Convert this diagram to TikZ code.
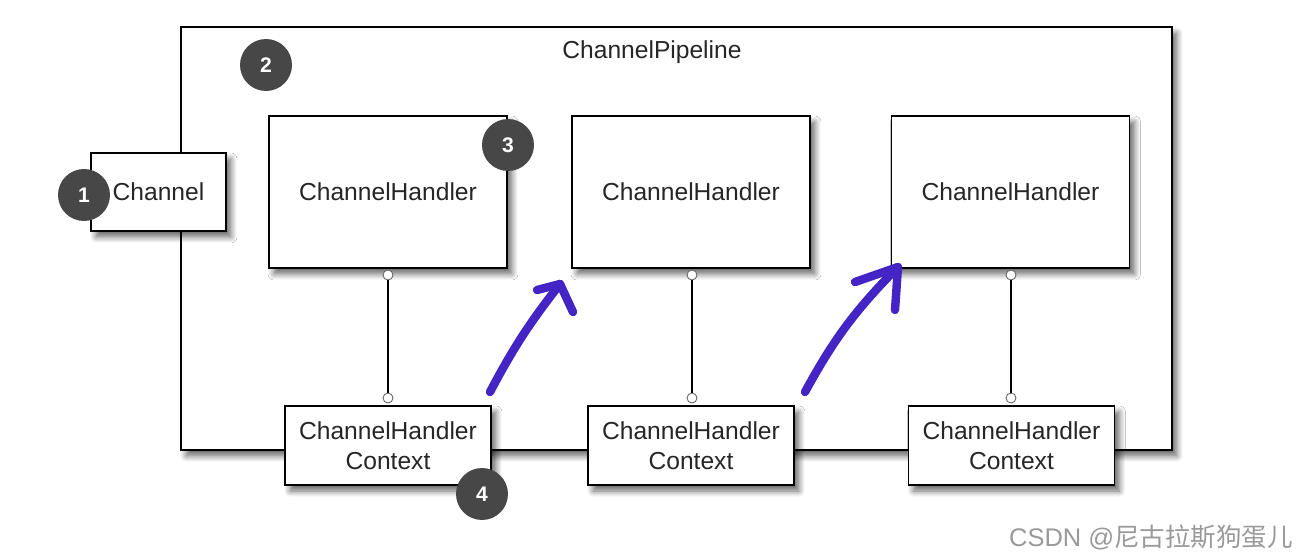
\documentclass[tikz,border=0pt]{standalone}
\usepackage{fontspec}
\setmainfont{Liberation Sans}
\newfontfamily\cjk{Noto Sans CJK SC}
\usetikzlibrary{shadows.blur}
\definecolor{pen}{RGB}{68,36,196}

\begin{document}
\begin{tikzpicture}[x=0.02cm,y=-0.02cm]
\tikzstyle{box}=[
  draw, line width=0.8pt, fill=white, text=black!85,
  font=\fontsize{14}{17}\selectfont, align=center, inner sep=0pt,
  blur shadow={shadow xshift=0.1cm, shadow yshift=-0.12cm,
    shadow blur steps=8, shadow blur radius=0.12cm, shadow opacity=60} ]
\tikzstyle{handler}=[box, minimum width=4.76cm, minimum height=3.04cm]
\tikzstyle{context}=[box, minimum width=4.12cm, minimum height=1.58cm]
\tikzstyle{badge}=[circle, fill=black!72, text=white, minimum size=1.04cm,
  inner sep=0pt, font=\bfseries\fontsize{12}{12}\selectfont]
\tikzstyle{port}=[circle, draw=black!60, fill=white, minimum size=0.2cm,
  inner sep=0pt, line width=0.5pt]
\tikzstyle{hand}=[draw=pen, line width=4.8pt, line cap=round, line join=round]

\useasboundingbox (0,0) rectangle (1306,558);

\node[box, minimum width=19.82cm, minimum height=8.46cm] (pipeline) at (676.5,238.5) {};
\node[text=black!85, font=\fontsize{14}{17}\selectfont] (title) at (652,52) {ChannelPipeline};
\node[box, minimum width=2.7cm, minimum height=1.56cm] (channel) at (158.5,192) {Channel};

\node[handler] (h1) at (388,192) {ChannelHandler};
\node[handler] (h2) at (691,192) {ChannelHandler};
\node[handler] (h3) at (1010.5,192) {ChannelHandler};

\node[port] (p1a) at (388,275) {};
\node[port] (p1b) at (388,398) {};
\node[port] (p2a) at (692,275) {};
\node[port] (p2b) at (692,398) {};
\node[port] (p3a) at (1011,275) {};
\node[port] (p3b) at (1011,398) {};
\draw[line width=0.6pt] (p1a) -- (p1b);
\draw[line width=0.6pt] (p2a) -- (p2b);
\draw[line width=0.6pt] (p3a) -- (p3b);

\node[context] (c1) at (388,445.5) {ChannelHandler\\Context};
\node[context] (c2) at (691,445.5) {ChannelHandler\\Context};
\node[context] (c3) at (1011.5,445.5) {ChannelHandler\\Context};

\node[badge] (b1) at (84,195) {1};
\node[badge] (b2) at (266,65) {2};
\node[badge] (b3) at (508,145) {3};
\node[badge] (b4) at (482,494) {4};

\coordinate (a1tail) at (490,392);
\coordinate (a1tip) at (560,284);
\coordinate (a1l) at (537,290);
\coordinate (a1r) at (573,312);
\draw[hand] (a1tail) to[bend left=5] (a1tip);
\draw[hand] (a1l) -- (a1tip) -- (a1r);

\coordinate (a2tail) at (805,392);
\coordinate (a2tip) at (898,267);
\coordinate (a2l) at (855,282);
\coordinate (a2r) at (895,310);
\draw[hand] (a2tail) to[bend left=8] (a2tip);
\draw[hand] (a2l) -- (a2tip) -- (a2r);

\node[anchor=west, text=black!40, font=\fontsize{14.5}{15}\selectfont] (mark) at (1003,537) {CSDN @{\cjk 尼古拉斯狗蛋儿}};
\end{tikzpicture}
\end{document}
